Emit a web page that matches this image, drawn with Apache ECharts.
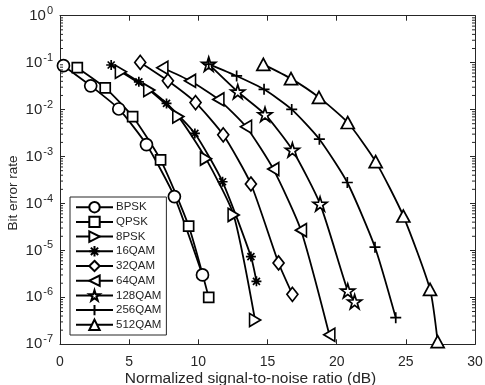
<!DOCTYPE html>
<html><head><meta charset="utf-8">
<script src="https://cdn.jsdelivr.net/npm/echarts@6/dist/echarts.min.js"></script>
<style>html,body{margin:0;padding:0;background:#fff}#c{width:485px;height:385px}</style>
</head><body><div id="c"></div>
<script>
const xTicks = [0, 5, 10, 15, 20, 25, 30];
const minorTickValues = [];
for (let k = -7; k < 0; k++) for (let m = 2; m <= 9; m++) minorTickValues.push(m * Math.pow(10, k));

const seriesNames = ['BPSK','QPSK','8PSK','16QAM','32QAM','64QAM','128QAM','256QAM','512QAM'];
const bpskSnr = [0.25, 2.22, 4.25, 6.25, 8.27, 10.3];
const bpskBer = [0.086, 0.032, 0.0103, 0.0018, 1.4e-4, 3.0e-6];
const qpskSnr = [1.25, 3.27, 5.25, 7.27, 9.3, 10.75];
const qpskBer = [0.078, 0.029, 0.0071, 8.5e-4, 3.3e-5, 1.0e-6];
const psk8Snr = [4.4, 6.45, 8.55, 10.55, 12.55, 14.1];
const psk8Ber = [0.064, 0.026, 0.0071, 9.0e-4, 5.7e-5, 3.3e-7];
const qam16Snr = [3.7, 5.7, 7.7, 9.75, 11.75, 13.8, 14.2];
const qam16Ber = [0.089, 0.039, 0.0135, 0.0031, 2.9e-4, 7.4e-6, 2.2e-6];
const qam32Snr = [5.8, 7.8, 9.8, 11.8, 13.8, 15.8, 16.8];
const qam32Ber = [0.101, 0.041, 0.0141, 0.0029, 2.6e-4, 5.4e-6, 1.16e-6];
const qam64Snr = [7.4, 9.4, 11.45, 13.45, 15.42, 17.42, 19.47];
const qam64Ber = [0.078, 0.041, 0.0165, 0.0043, 5.4e-4, 2.7e-5, 1.6e-7];
const qam128Snr = [10.75, 12.85, 14.82, 16.8, 18.8, 20.8, 21.3];
const qam128Ber = [0.093, 0.024, 0.0079, 0.00138, 9.8e-5, 1.38e-6, 8.1e-7];
const qam256Snr = [10.75, 12.77, 14.75, 16.75, 18.75, 20.77, 22.77, 24.27];
const qam256Ber = [0.093, 0.052, 0.027, 0.0101, 0.00234, 2.8e-4, 1.17e-5, 3.7e-7];
const qam512Snr = [14.7, 16.7, 18.72, 20.8, 22.82, 24.82, 26.75, 27.3];
const qam512Ber = [0.092, 0.0457, 0.0182, 0.0053, 7.8e-4, 5.4e-5, 1.48e-6, 1.14e-7];

const SYM = {
  circle: 'circle',
  square: 'rect',
  right: 'path://M-1,-1L1,0L-1,1Z',
  left: 'path://M1,-1L-1,0L1,1Z',
  up: 'path://M0,-1L1,1L-1,1Z',
  diamond: 'diamond',
  asterisk: 'path://M0,-1L0,1M-1,0L1,0M-0.7,-0.7L0.7,0.7M-0.7,0.7L0.7,-0.7',
  plus: 'path://M0,-1L0,1M-1,0L1,0',
  star: 'path://M0,-1L0.2245,-0.309L0.951,-0.309L0.363,0.118L0.588,0.809L0,0.382L-0.588,0.809L-0.363,0.118L-0.951,-0.309L-0.2245,-0.309Z'
};
const dataSets = [
  [bpskSnr, bpskBer, SYM.circle, 12],
  [qpskSnr, qpskBer, SYM.square, 10],
  [psk8Snr, psk8Ber, SYM.right, [11, 13]],
  [qam16Snr, qam16Ber, SYM.asterisk, 10],
  [qam32Snr, qam32Ber, SYM.diamond, [11, 14]],
  [qam64Snr, qam64Ber, SYM.left, [11, 13]],
  [qam128Snr, qam128Ber, SYM.star, 14],
  [qam256Snr, qam256Ber, SYM.plus, 11],
  [qam512Snr, qam512Ber, SYM.up, [13, 12]]
];
const FONT = 'Liberation Sans';
const AX = '#262626';

const series = dataSets.map((d, i) => ({
  name: seriesNames[i],
  type: 'line',
  data: d[0].map((x, j) => [x, d[1][j]]),
  symbol: d[2],
  symbolSize: d[3],
  showAllSymbol: true,
  smooth: 0.2,
  clip: false,
  z: 3,
  lineStyle: { color: '#000', width: 1.8 },
  itemStyle: { color: '#fff', borderColor: '#000', borderWidth: 1.7 },
  emphasis: { disabled: true },
  animation: false
}));

series.push({
  type: 'custom',
  name: 'minorTicks',
  coordinateSystem: 'cartesian2d',
  xAxisIndex: 0, yAxisIndex: 0,
  data: minorTickValues.map(v => [0, v]),
  silent: true,
  z: 5,
  renderItem: function (params, api) {
    const v = api.value(1);
    const pl = api.coord([xTicks[0], v]);
    const pr = api.coord([xTicks[xTicks.length - 1], v]);
    return { type: 'group', children: [
      { type: 'line', shape: { x1: pl[0], y1: pl[1], x2: pl[0] + 3, y2: pl[1] }, style: { stroke: AX, lineWidth: 1 } },
      { type: 'line', shape: { x1: pr[0], y1: pr[1], x2: pr[0] - 3, y2: pr[1] }, style: { stroke: AX, lineWidth: 1 } }
    ]};
  },
  animation: false
});

const supLabel = v => {
  const e = Math.round(Math.log10(v));
  return '{b|10}{s|' + e + '}';
};

const chart = echarts.init(document.getElementById('c'), null, { renderer: 'canvas' });
chart.setOption({
  animation: false,
  backgroundColor: '#fff',
  textStyle: { fontFamily: FONT, color: AX },
  grid: { left: 60, right: 10, top: 15.7, bottom: 40.7, containLabel: false, outerBoundsMode: 'none' },
  legend: {
    data: seriesNames,
    orient: 'vertical',
    left: 70, top: 197,
    padding: [4, 5, 4, 5],
    itemWidth: 37, itemHeight: 13, itemGap: 2.3,
    borderColor: AX, borderWidth: 1,
    backgroundColor: '#fff',
    textStyle: { fontFamily: FONT, fontSize: 11.5, color: AX, padding: [0, 0, 0, -2] },
    selectedMode: false
  },
  xAxis: [{
    type: 'value', min: xTicks[0], max: xTicks[xTicks.length - 1], interval: 5,
    name: 'Normalized signal-to-noise ratio (dB)', nameLocation: 'middle', nameGap: 26,
    nameMoveOverlap: false,
    nameTextStyle: { fontFamily: FONT, fontSize: 15.5, color: AX, padding: [0, 34, 0, 0] },
    axisLine: { show: true, onZero: false, lineStyle: { color: AX, width: 1 } },
    axisTick: { show: true, inside: true, length: 5, lineStyle: { color: AX } },
    axisLabel: { fontFamily: FONT, fontSize: 14, color: AX, margin: 11 },
    splitLine: { show: false }
  }, {
    type: 'value', min: xTicks[0], max: xTicks[xTicks.length - 1], interval: 5, position: 'top',
    axisLine: { show: true, onZero: false, lineStyle: { color: AX, width: 1 } },
    axisTick: { show: true, inside: true, length: 5, lineStyle: { color: AX } },
    axisLabel: { show: false }, splitLine: { show: false }
  }],
  yAxis: [{
    type: 'log', logBase: 10, min: 1e-7, max: 1, interval: 1,
    name: 'Bit error rate', nameLocation: 'middle', nameGap: 40, nameRotate: 90,
    nameMoveOverlap: false,
    nameTextStyle: { fontFamily: FONT, fontSize: 13.5, color: AX, padding: [0, 26, 0, 0] },
    axisLine: { show: true, onZero: false, lineStyle: { color: AX, width: 1 } },
    axisTick: { show: true, inside: true, length: 5, lineStyle: { color: AX } },
    axisLabel: {
      formatter: supLabel, margin: 7, color: AX,
      rich: {
        b: { fontFamily: FONT, fontSize: 15, color: AX, lineHeight: 15, verticalAlign: 'bottom' },
        s: { fontFamily: FONT, fontSize: 11, color: AX, lineHeight: 11, verticalAlign: 'bottom', padding: [0, 0, 7, 1] }
      }
    },
    splitLine: { show: false }
  }, {
    type: 'log', logBase: 10, min: 1e-7, max: 1, interval: 1, position: 'right',
    axisLine: { show: true, onZero: false, lineStyle: { color: AX, width: 1 } },
    axisTick: { show: true, inside: true, length: 5, lineStyle: { color: AX } },
    axisLabel: { show: false }, splitLine: { show: false }
  }],
  series: series
});
</script>
</body></html>
